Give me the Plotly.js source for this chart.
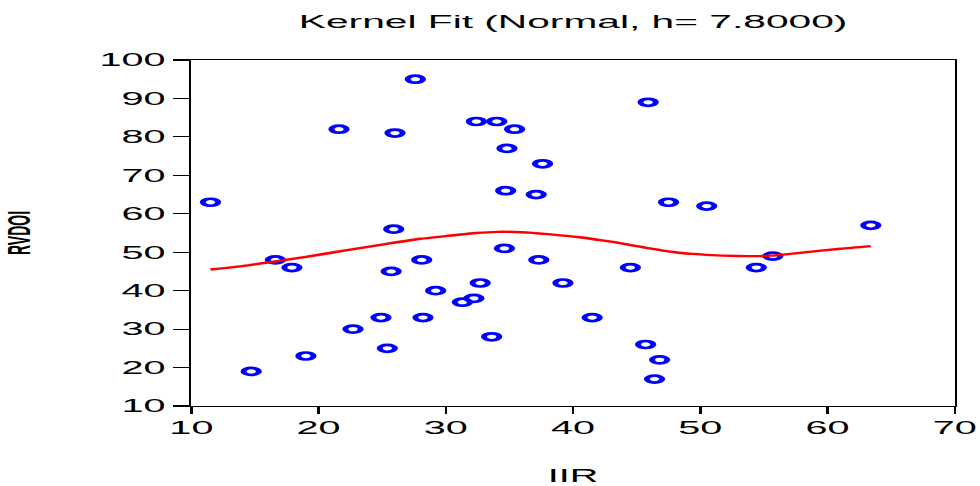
<!DOCTYPE html>
<html>
<head>
<meta charset="utf-8">
<script src="https://cdn.plot.ly/plotly-3.0.1.min.js"></script>
<style>
  html, body { margin: 0; padding: 0; background: #ffffff; overflow: hidden; }
  #wrap { width: 980px; height: 486px; overflow: hidden; }
  #chart { width: 445.45px; height: 486px; transform: scaleX(2.2); transform-origin: 0 0; }
</style>
</head>
<body>
<div id="wrap"><div id="chart"></div></div>
<script>
// Scatter observations (IIR vs. RVDOI)
const iir = [11.5, 14.7, 16.6, 17.9, 19.0, 21.6, 22.7, 24.9, 25.4, 25.7, 25.9, 26.0, 27.6, 28.1,
             28.2, 29.2, 31.3, 32.2, 32.4, 32.7, 33.6, 34.0, 34.6, 34.7, 34.8, 35.4, 37.1, 37.3,
             37.6, 39.2, 41.5, 44.5, 45.7, 45.9, 46.4, 46.8, 47.5, 50.5, 54.4, 55.7, 63.4];
const rvdoi = [63, 19, 48, 46, 23, 82, 30, 33, 25, 45, 56, 81, 95, 48,
               33, 40, 37, 38, 84, 42, 28, 84, 51, 66, 77, 82, 65, 48,
               73, 42, 33, 46, 26, 89, 17, 22, 63, 62, 46, 49, 57];

// Kernel fit curve (Normal kernel, h = 7.8)
const fitX = [11.5, 14.0, 16.6, 19.0, 22.0, 25.0, 28.0, 30.0, 32.4, 34.0, 36.0, 38.0,
              40.5, 42.0, 44.0, 46.0, 48.0, 50.5, 53.0, 55.5, 58.0, 61.0, 63.4];
const fitY = [45.5, 46.4, 47.6, 48.8, 50.4, 52.0, 53.5, 54.2, 55.0, 55.3, 55.2, 54.7,
              53.9, 53.2, 52.2, 51.0, 50.0, 49.3, 49.0, 49.1, 49.9, 50.9, 51.6];

const xTicks = [10, 20, 30, 40, 50, 60, 70];
const yTicks = [10, 20, 30, 40, 50, 60, 70, 80, 90, 100];

const fontFam = 'Liberation Sans, Arial, sans-serif';

const traces = [
  {
    x: iir, y: rvdoi, type: 'scatter', mode: 'markers',
    marker: { symbol: 'circle-open', size: 7, color: '#0000ff', line: { width: 2.7, color: '#0000ff' } },
    showlegend: false, hoverinfo: 'x+y'
  },
  {
    x: fitX, y: fitY, type: 'scatter', mode: 'lines',
    line: { color: '#ff0000', width: 2.4, shape: 'spline', smoothing: 0.6 },
    showlegend: false, hoverinfo: 'x+y'
  }
];

const axisCommon = {
  showgrid: false, zeroline: false,
  showline: true, mirror: true, linecolor: '#000000', linewidth: 1.2,
  ticks: 'outside', ticklen: 7, tickwidth: 1.1, tickcolor: '#000000',
  tickfont: { family: fontFam, size: 18, color: '#000000' }
};

const layout = {
  width: 445.45, height: 486,
  margin: { l: 86.82, r: 10.9, t: 59.5, b: 79.5 },
  paper_bgcolor: '#ffffff', plot_bgcolor: '#ffffff',
  title: {
    text: 'Kernel Fit (Normal, h= 7.8000)',
    font: { family: fontFam, size: 18.5, color: '#000000' },
    x: 0.5, xref: 'paper', xanchor: 'center',
    y: 1 - 22 / 486, yref: 'container', yanchor: 'middle'
  },
  xaxis: Object.assign({}, axisCommon, {
    range: [10, 70], tickmode: 'array', tickvals: xTicks, ticktext: xTicks.map(String),
    ticklabelstandoff: -2,
    title: { text: 'IIR', font: { family: fontFam, size: 18, color: '#000000' }, standoff: 36 }
  }),
  yaxis: Object.assign({}, axisCommon, {
    range: [10, 100], tickmode: 'array', tickvals: yTicks, ticktext: yTicks.map(String),
    title: { text: 'RVDOI', font: { family: fontFam, size: 14, color: '#000000', weight: 'bold' }, standoff: 27 }
  }),
  showlegend: false
};

Plotly.newPlot('chart', traces, layout, { displayModeBar: false, staticPlot: true });
</script>
</body>
</html>
